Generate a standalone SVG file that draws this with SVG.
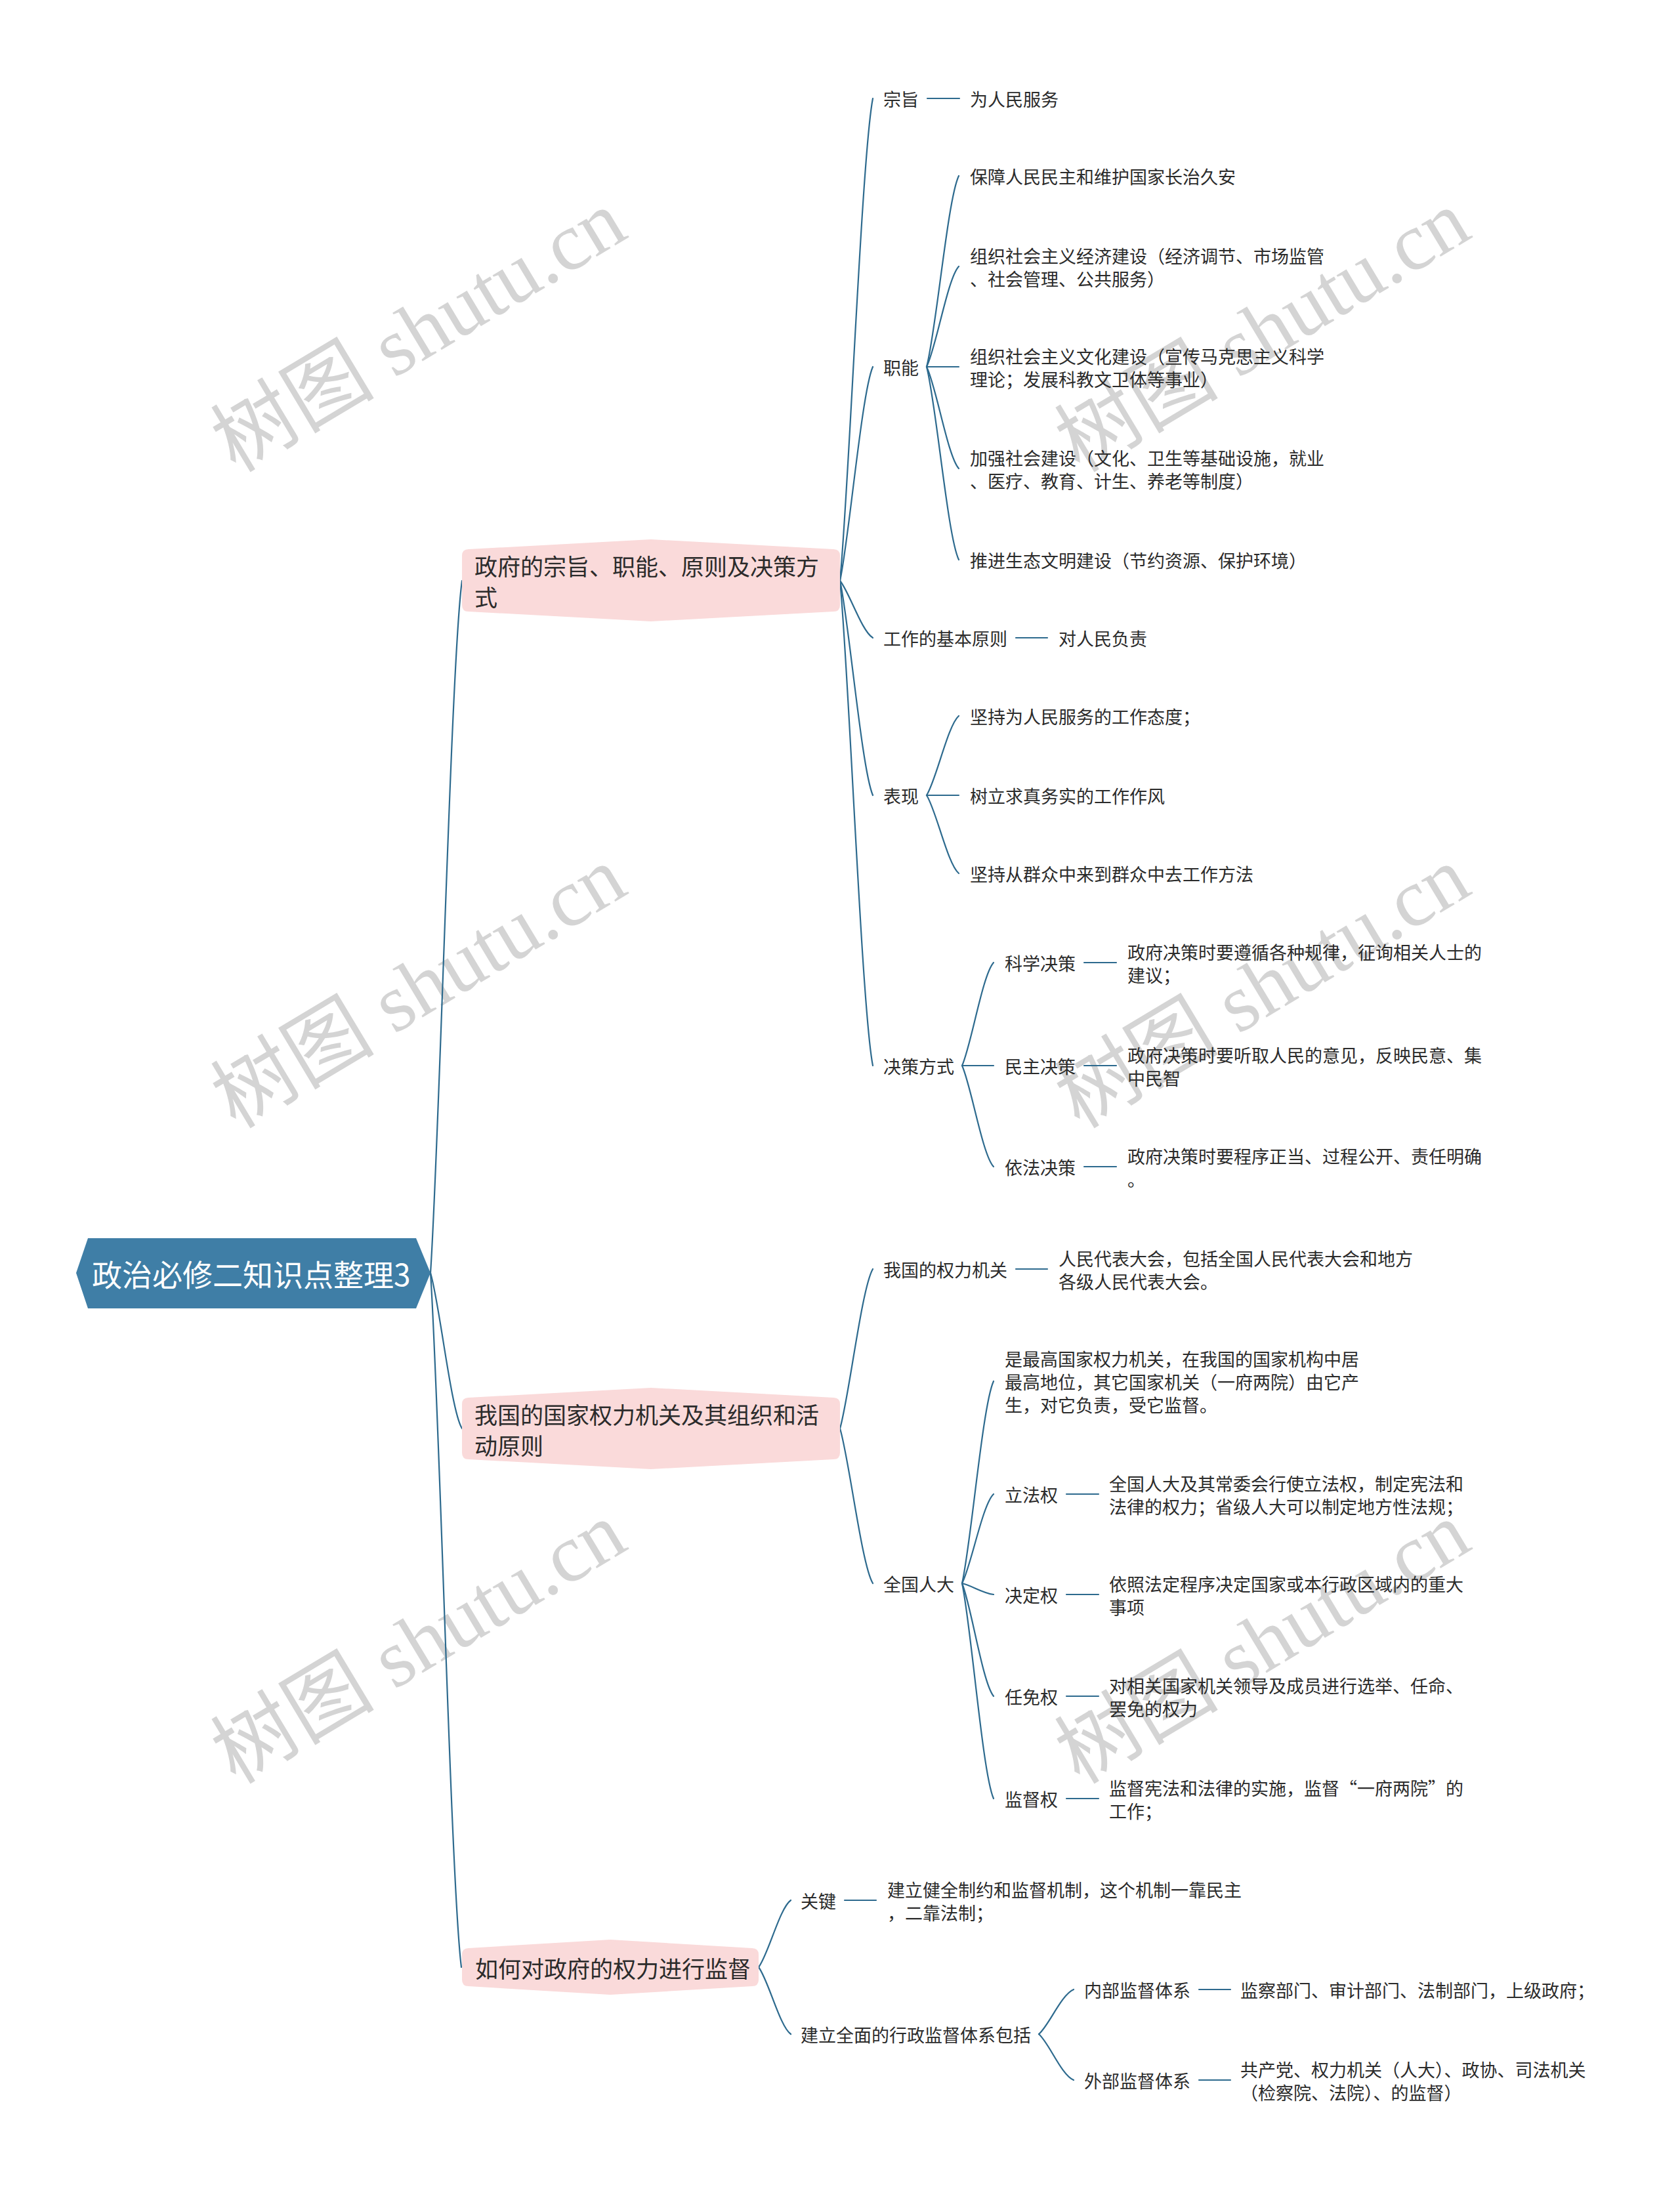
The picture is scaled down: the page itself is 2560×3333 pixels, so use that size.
<svg xmlns="http://www.w3.org/2000/svg" width="2560" height="3333" viewBox="0 0 2560 3333">
<style>
.bg{fill:#ffffff}
.wm{font-family:"Liberation Serif","Noto Sans CJK SC",serif;font-size:125px;fill:#d4d4d4;text-anchor:middle;dominant-baseline:central}
.c{fill:none;stroke:#2d6a8e;stroke-width:2.2;stroke-linecap:round}
.t{font-family:"Noto Sans CJK SC","Noto Sans CJK JP",sans-serif;font-size:27px;fill:#2b2b2b;dominant-baseline:central}
.t1{font-size:35px}
.t0{font-size:46px;fill:#ffffff}
.root{fill:#3f7ea6}
.l1{fill:#fadada}
</style>
<rect class="bg" x="0" y="0" width="2560" height="3333"/>
<g id="watermarks">
<text class="wm" transform="translate(638,505) rotate(-31)">树图 shutu.cn</text>
<text class="wm" transform="translate(1924,505) rotate(-31)">树图 shutu.cn</text>
<text class="wm" transform="translate(638,1505) rotate(-31)">树图 shutu.cn</text>
<text class="wm" transform="translate(1924,1505) rotate(-31)">树图 shutu.cn</text>
<text class="wm" transform="translate(638,2504) rotate(-31)">树图 shutu.cn</text>
<text class="wm" transform="translate(1924,2504) rotate(-31)">树图 shutu.cn</text>
</g>
<g id="connectors">
<!-- root to L1 -->
<path class="c" d="M656,1940 C670,1729 687,1012 704,885"/>
<path class="c" d="M656,1940 C670,1987 687,2149 704,2177"/>
<path class="c" d="M656,1940 C670,2152 687,2871 703,2998"/>
<!-- L1-1 children -->
<path class="c" d="M1280,885 C1294,738 1313,239 1330,150"/>
<path class="c" d="M1280,885 C1294,820 1313,598 1330,559"/>
<path class="c" d="M1280,885 C1294,902 1313,962 1330,972"/>
<path class="c" d="M1280,885 C1294,950 1313,1172 1330,1212"/>
<path class="c" d="M1280,885 C1294,1033 1313,1537 1330,1624"/>
<!-- 职能 -->
<path class="c" d="M1412,559 C1427,501 1444,303 1461,268"/>
<path class="c" d="M1412,559 C1427,528 1444,424 1461,406"/>
<path class="c" d="M1412,559 L1461,559"/>
<path class="c" d="M1412,559 C1427,590 1444,695 1461,714"/>
<path class="c" d="M1412,559 C1427,618 1444,818 1461,853"/>
<!-- 表现 -->
<path class="c" d="M1412,1212 C1427,1188 1444,1106 1461,1091"/>
<path class="c" d="M1412,1212 L1461,1212"/>
<path class="c" d="M1412,1212 C1427,1236 1444,1317 1461,1331"/>
<!-- 决策方式 -->
<path class="c" d="M1466,1624 C1480,1593 1497,1486 1514,1467"/>
<path class="c" d="M1466,1624 L1514,1624"/>
<path class="c" d="M1466,1624 C1480,1655 1497,1760 1514,1778"/>
<!-- L1-2 children -->
<path class="c" d="M1280,2177 C1294,2128 1313,1963 1330,1934"/>
<path class="c" d="M1280,2177 C1294,2224 1313,2385 1330,2413"/>
<!-- 全国人大 -->
<path class="c" d="M1466,2413 C1480,2351 1497,2142 1514,2105"/>
<path class="c" d="M1466,2413 C1480,2386 1497,2293 1514,2277"/>
<path class="c" d="M1466,2413 C1480,2416 1497,2428 1514,2430"/>
<path class="c" d="M1466,2413 C1480,2447 1497,2564 1514,2585"/>
<path class="c" d="M1466,2413 C1480,2479 1497,2702 1514,2741"/>
<!-- L1-3 children -->
<path class="c" d="M1156,2998 C1171,2978 1188,2908 1205,2896"/>
<path class="c" d="M1156,2998 C1171,3018 1188,3088 1205,3100"/>
<!-- 建立全面 -->
<path class="c" d="M1583,3100 C1599,3086 1617,3040 1636,3032"/>
<path class="c" d="M1583,3100 C1599,3114 1617,3162 1636,3170"/>
<!-- dashes -->
<path class="c" d="M1413,150 L1462,150"/>
<path class="c" d="M1548,972 L1596,972"/>
<path class="c" d="M1652,1467 L1701,1467"/>
<path class="c" d="M1652,1624 L1701,1624"/>
<path class="c" d="M1652,1778 L1701,1778"/>
<path class="c" d="M1548,1934 L1596,1934"/>
<path class="c" d="M1625,2277 L1674,2277"/>
<path class="c" d="M1625,2430 L1674,2430"/>
<path class="c" d="M1625,2585 L1674,2585"/>
<path class="c" d="M1625,2741 L1674,2741"/>
<path class="c" d="M1287,2896 L1335,2896"/>
<path class="c" d="M1827,3032 L1875,3032"/>
<path class="c" d="M1827,3170 L1875,3170"/>
</g>
<g id="root">
<polygon class="root" points="116,1940 134,1887 634,1887 656,1940 634,1994 134,1994"/>
<text class="t t0" x="140" y="1940">政治必修二知识点整理3</text>
</g>
<g id="n1">
<path class="l1" d="M714,837 L992,822 L1270,837 Q1280,837 1280,847 L1280,922 Q1280,932 1270,932 L992,947 L714,932 Q704,932 704,922 L704,847 Q704,837 714,837 Z"/>
<text class="t t1"><tspan x="723" y="861">政府的宗旨、职能、原则及决策方</tspan><tspan x="723" y="908">式</tspan></text>
</g>
<g id="n2">
<path class="l1" d="M714,2130 L992,2115 L1270,2130 Q1280,2130 1280,2140 L1280,2214 Q1280,2224 1270,2224 L992,2239 L714,2224 Q704,2224 704,2214 L704,2140 Q704,2130 714,2130 Z"/>
<text class="t t1"><tspan x="723" y="2154">我国的国家权力机关及其组织和活</tspan><tspan x="723" y="2201">动原则</tspan></text>
</g>
<g id="n3">
<path class="l1" d="M714,2969 L930,2956 L1146,2969 Q1156,2969 1156,2979 L1156,3017 Q1156,3027 1146,3027 L930,3040 L714,3027 Q704,3027 704,3017 L704,2979 Q704,2969 714,2969 Z"/>
<text class="t t1" x="724" y="2998">如何对政府的权力进行监督</text>
</g>
<g id="n1-zongzhi"><text class="t" x="1346" y="150">宗旨</text></g>
<g id="n1-zongzhi-1"><text class="t" x="1478" y="150">为人民服务</text></g>
<g id="n1-zhineng"><text class="t" x="1346" y="559">职能</text></g>
<g id="n1-zhineng-1"><text class="t" x="1478" y="268">保障人民民主和维护国家长治久安</text></g>
<g id="n1-zhineng-2"><text class="t"><tspan x="1478" y="389">组织社会主义经济建设（经济调节、市场监管</tspan><tspan x="1478" y="424">、社会管理、公共服务）</tspan></text></g>
<g id="n1-zhineng-3"><text class="t"><tspan x="1478" y="542">组织社会主义文化建设（宣传马克思主义科学</tspan><tspan x="1478" y="577">理论；发展科教文卫体等事业）</tspan></text></g>
<g id="n1-zhineng-4"><text class="t"><tspan x="1478" y="697">加强社会建设（文化、卫生等基础设施，就业</tspan><tspan x="1478" y="732">、医疗、教育、计生、养老等制度）</tspan></text></g>
<g id="n1-zhineng-5"><text class="t" x="1478" y="853">推进生态文明建设（节约资源、保护环境）</text></g>
<g id="n1-yuanze"><text class="t" x="1346" y="972">工作的基本原则</text></g>
<g id="n1-yuanze-1"><text class="t" x="1613" y="972">对人民负责</text></g>
<g id="n1-biaoxian"><text class="t" x="1346" y="1212">表现</text></g>
<g id="n1-biaoxian-1"><text class="t" x="1478" y="1091">坚持为人民服务的工作态度；</text></g>
<g id="n1-biaoxian-2"><text class="t" x="1478" y="1212">树立求真务实的工作作风</text></g>
<g id="n1-biaoxian-3"><text class="t" x="1478" y="1331">坚持从群众中来到群众中去工作方法</text></g>
<g id="n1-juece"><text class="t" x="1346" y="1624">决策方式</text></g>
<g id="n1-juece-1"><text class="t" x="1531" y="1467">科学决策</text></g>
<g id="n1-juece-1a"><text class="t"><tspan x="1718" y="1450">政府决策时要遵循各种规律，征询相关人士的</tspan><tspan x="1718" y="1485">建议；</tspan></text></g>
<g id="n1-juece-2"><text class="t" x="1531" y="1624">民主决策</text></g>
<g id="n1-juece-2a"><text class="t"><tspan x="1718" y="1607">政府决策时要听取人民的意见，反映民意、集</tspan><tspan x="1718" y="1642">中民智</tspan></text></g>
<g id="n1-juece-3"><text class="t" x="1531" y="1778">依法决策</text></g>
<g id="n1-juece-3a"><text class="t"><tspan x="1718" y="1761">政府决策时要程序正当、过程公开、责任明确</tspan><tspan x="1718" y="1796">。</tspan></text></g>
<g id="n2-jiguan"><text class="t" x="1346" y="1934">我国的权力机关</text></g>
<g id="n2-jiguan-1"><text class="t"><tspan x="1613" y="1917">人民代表大会，包括全国人民代表大会和地方</tspan><tspan x="1613" y="1952">各级人民代表大会。</tspan></text></g>
<g id="n2-renda"><text class="t" x="1346" y="2413">全国人大</text></g>
<g id="n2-renda-0"><text class="t"><tspan x="1531" y="2070">是最高国家权力机关，在我国的国家机构中居</tspan><tspan x="1531" y="2105">最高地位，其它国家机关（一府两院）由它产</tspan><tspan x="1531" y="2140">生，对它负责，受它监督。</tspan></text></g>
<g id="n2-renda-1"><text class="t" x="1531" y="2277">立法权</text></g>
<g id="n2-renda-1a"><text class="t"><tspan x="1690" y="2260">全国人大及其常委会行使立法权，制定宪法和</tspan><tspan x="1690" y="2295">法律的权力；省级人大可以制定地方性法规；</tspan></text></g>
<g id="n2-renda-2"><text class="t" x="1531" y="2430">决定权</text></g>
<g id="n2-renda-2a"><text class="t"><tspan x="1690" y="2413">依照法定程序决定国家或本行政区域内的重大</tspan><tspan x="1690" y="2448">事项</tspan></text></g>
<g id="n2-renda-3"><text class="t" x="1531" y="2585">任免权</text></g>
<g id="n2-renda-3a"><text class="t"><tspan x="1690" y="2568">对相关国家机关领导及成员进行选举、任命、</tspan><tspan x="1690" y="2603">罢免的权力</tspan></text></g>
<g id="n2-renda-4"><text class="t" x="1531" y="2741">监督权</text></g>
<g id="n2-renda-4a"><text class="t"><tspan x="1690" y="2724">监督宪法和法律的实施，监督“一府两院”的</tspan><tspan x="1690" y="2759">工作；</tspan></text></g>
<g id="n3-guanjian"><text class="t" x="1220" y="2896">关键</text></g>
<g id="n3-guanjian-1"><text class="t"><tspan x="1352" y="2879">建立健全制约和监督机制，这个机制一靠民主</tspan><tspan x="1352" y="2914">，二靠法制；</tspan></text></g>
<g id="n3-tixi"><text class="t" x="1220" y="3100">建立全面的行政监督体系包括</text></g>
<g id="n3-tixi-1"><text class="t" x="1652" y="3032">内部监督体系</text></g>
<g id="n3-tixi-1a"><text class="t" x="1890" y="3032">监察部门、审计部门、法制部门，上级政府；</text></g>
<g id="n3-tixi-2"><text class="t" x="1652" y="3170">外部监督体系</text></g>
<g id="n3-tixi-2a"><text class="t"><tspan x="1890" y="3153">共产党、权力机关（人大）、政协、司法机关</tspan><tspan x="1890" y="3188">（检察院、法院）、的监督）</tspan></text></g>
</svg>
